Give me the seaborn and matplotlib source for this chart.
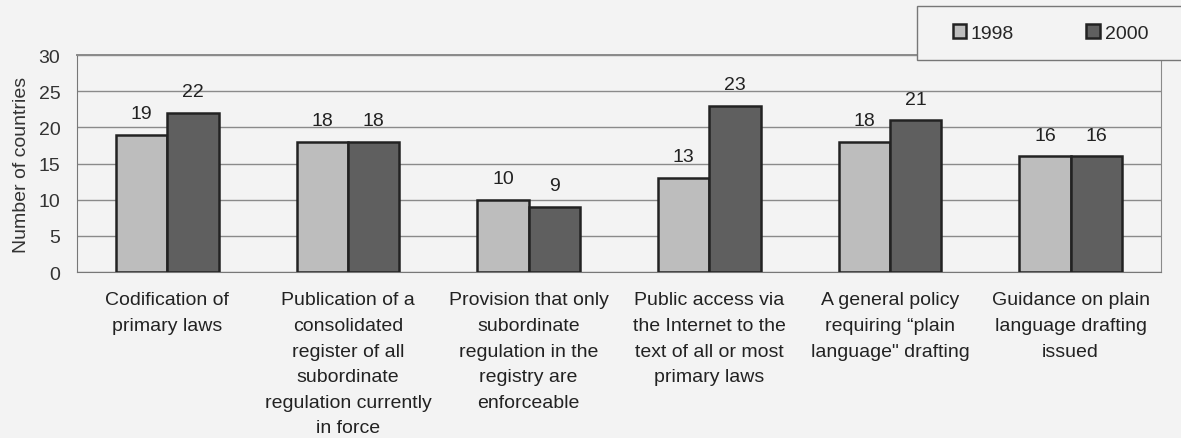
import matplotlib.pyplot as plt
import pandas as pd
import seaborn as sns
from matplotlib.patches import Rectangle

# Data
CATEGORIES = [
    "Codification of\nprimary laws",
    "Publication of a\nconsolidated\nregister of all\nsubordinate\nregulation currently\nin force",
    "Provision that only\nsubordinate\nregulation in the\nregistry are\nenforceable",
    "Public access via\nthe Internet to the\ntext of all or most\nprimary laws",
    "A general policy\nrequiring \u201cplain\nlanguage\" drafting",
    "Guidance on plain\nlanguage drafting\nissued",
]
YEARS = ["1998", "2000"]
VALUES_1998 = [19, 18, 10, 13, 18, 16]
VALUES_2000 = [22, 18, 9, 23, 21, 16]

BG = "#f3f3f3"
COLORS = ["#bdbdbd", "#5f5f5f"]


def build_frame() -> pd.DataFrame:
    rows = []
    for year, vals in zip(YEARS, [VALUES_1998, VALUES_2000]):
        for cat, v in zip(CATEGORIES, vals):
            rows.append({"category": cat, "year": year, "value": v})
    return pd.DataFrame(rows)


def plot(df: pd.DataFrame):
    sns.set_style("white")
    plt.rcParams["font.family"] = ["Liberation Sans", "DejaVu Sans"]

    W, H = 1181, 439
    fig = plt.figure(figsize=(W / 100, H / 100), dpi=100, facecolor=BG)
    ax = fig.add_axes([77 / W, 1 - 273 / H, (1161 - 77) / W, (273 - 56) / H])
    ax.set_facecolor(BG)

    sns.barplot(data=df, x="category", y="value", hue="year", palette=COLORS,
                width=0.57, gap=0, edgecolor="#222222", linewidth=1.8,
                saturation=1, ax=ax, zorder=3)

    # value labels
    for container in ax.containers:
        ax.bar_label(container, padding=9, fontsize=14, color="#222222")

    ax.set_ylim(0, 30)
    ax.set_yticks(range(0, 31, 5))
    ax.set_xlim(-0.5, len(CATEGORIES) - 0.5)
    ax.yaxis.grid(True, color="#8a8a8a", linewidth=1, zorder=0)
    ax.set_axisbelow(True)

    # category boundaries ticks
    ax.set_xticks([i + 0.5 for i in range(len(CATEGORIES) - 1)], minor=True)
    ax.tick_params(axis="x", which="minor", length=5, color="#777777", width=1)
    ax.tick_params(axis="x", which="major", length=0, pad=14, labelsize=14, labelcolor="#222222")
    ax.tick_params(axis="y", length=0, pad=12, labelsize=14, labelcolor="#333333")
    for lbl in ax.get_xticklabels():
        lbl.set_linespacing(1.66)
        lbl.set_verticalalignment("top")

    for side in ["top", "right"]:
        ax.spines[side].set_visible(True)
        ax.spines[side].set_color("#8a8a8a")
    ax.spines["left"].set_color("#777777")
    ax.spines["bottom"].set_color("#777777")
    ax.spines["top"].set_linewidth(1.4)

    ax.set_xlabel("")
    ax.set_ylabel("Number of countries", fontsize=14, color="#333333", labelpad=6)

    # legend box running off the right edge, as in the original
    fig.patches.append(Rectangle((917 / W, 1 - 61 / H), 300 / W, 54 / H,
                                 transform=fig.transFigure, facecolor=BG,
                                 edgecolor="#777777", linewidth=1, zorder=4))
    handles, labels = ax.get_legend_handles_labels()
    ax.get_legend().remove()
    leg = fig.legend(handles, labels, loc="center left",
                     bbox_to_anchor=(935 / W, 1 - 34 / H),
                     ncol=2, frameon=False, fontsize=14, handlelength=0.7,
                     handleheight=0.7, columnspacing=3.7, handletextpad=0.25)
    leg.set_zorder(5)

    fig.savefig("out.png", dpi=100, facecolor=BG)


if __name__ == "__main__":
    plot(build_frame())
